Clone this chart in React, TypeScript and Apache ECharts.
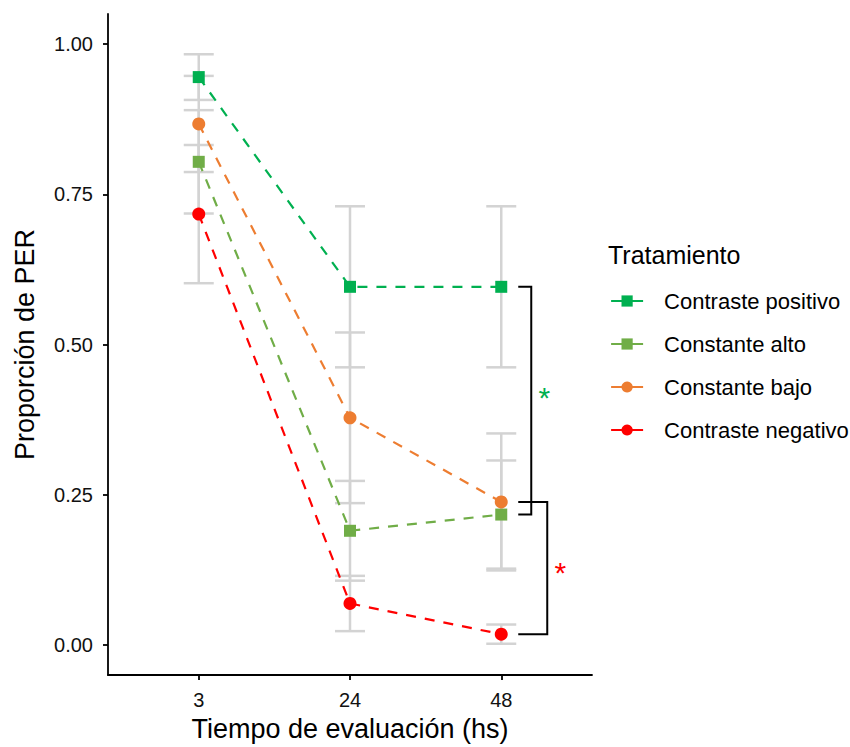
import React, { useEffect, useRef } from "react";
import * as echarts from "echarts";

// Evaluation times (hours) shown on the x axis
const categories = ["3", "24", "48"];

// Mean PER proportion per treatment and time
const positivo = [0.945, 0.596, 0.596];
const alto = [0.804, 0.19, 0.217];
const bajo = [0.867, 0.378, 0.238];
const negativo = [0.717, 0.069, 0.018];

// Half-width of the error bars (same order as above)
const errPositivo = [0.038, 0.134, 0.134];
const errAlto = [0.086, 0.083, 0.09];
const errBajo = [0.08, 0.142, 0.114];
const errNegativo = [0.115, 0.046, 0.016];

const yTicks = [0, 0.25, 0.5, 0.75, 1];

const treatments = [
  { name: "Contraste positivo", values: positivo, err: errPositivo, color: "#00B050", symbol: "rect" },
  { name: "Constante alto", values: alto, err: errAlto, color: "#70AD47", symbol: "rect" },
  { name: "Constante bajo", values: bajo, err: errBajo, color: "#ED7D31", symbol: "circle" },
  { name: "Contraste negativo", values: negativo, err: errNegativo, color: "#FF0000", symbol: "circle" },
];

// Significance brackets at the last time point: [upper, lower] means
const bracketPairs = [
  [positivo[2], alto[2]],
  [bajo[2], negativo[2]],
];
const bracketColors = ["#00B050", "#FF0000"];

const FONT = "'Liberation Sans', Arial, Helvetica, sans-serif";

export default function App() {
  const ref = useRef<HTMLDivElement>(null);

  useEffect(() => {
    if (!ref.current) return;
    const chart = echarts.init(ref.current, undefined, { renderer: "svg" });

    const xPos = categories.map((_, i) => i + 1);

    const errData: number[][] = [];
    treatments.forEach((t) => {
      t.values.forEach((v, i) => {
        errData.push([xPos[i], v - t.err[i], v + t.err[i]]);
      });
    });

    const lastX = xPos[xPos.length - 1];
    const bracketData = bracketPairs.map((p, i) => [lastX, p[0], p[1], i]);

    const series: any[] = [
      {
        type: "custom",
        name: "errorbars",
        data: errData,
        z: 1,
        silent: true,
        renderItem: (params: any, api: any) => {
          const x = api.value(0);
          const lo = api.coord([x, api.value(1)]);
          const hi = api.coord([x, api.value(2)]);
          const half = 15;
          const style = { stroke: "#D3D3D3", lineWidth: 2.5 };
          return {
            type: "group",
            children: [
              { type: "line", shape: { x1: lo[0], y1: lo[1], x2: hi[0], y2: hi[1] }, style },
              { type: "line", shape: { x1: lo[0] - half, y1: lo[1], x2: lo[0] + half, y2: lo[1] }, style },
              { type: "line", shape: { x1: hi[0] - half, y1: hi[1], x2: hi[0] + half, y2: hi[1] }, style },
            ],
          };
        },
      },
      ...treatments.map((t) => ({
        type: "line",
        name: t.name,
        data: t.values.map((v, i) => [xPos[i], v]),
        symbol: t.symbol,
        symbolSize: t.symbol === "rect" ? 12 : 13,
        z: 3,
        itemStyle: { color: t.color },
        lineStyle: { color: t.color, width: 2.2, type: [10, 9] },
      })),
      {
        type: "custom",
        name: "brackets",
        data: bracketData,
        z: 4,
        silent: true,
        renderItem: (params: any, api: any) => {
          const x = api.value(0);
          const idx = api.value(3);
          const a = api.coord([x, api.value(1)]);
          const b = api.coord([x, api.value(2)]);
          const x0 = a[0] + 17;
          const x1 = a[0] + (idx === 0 ? 30 : 46);
          const starShift = idx === 0 ? -3 : 4;
          const style = { stroke: "#000", lineWidth: 2, fill: "none" };
          return {
            type: "group",
            children: [
              {
                type: "polyline",
                shape: { points: [[x0, a[1]], [x1, a[1]], [x1, b[1]], [x0, b[1]]] },
                style,
              },
              {
                type: "text",
                x: x1 + 13,
                y: (a[1] + b[1]) / 2 + starShift,
                style: {
                  text: "*",
                  fill: bracketColors[idx],
                  font: `30px ${FONT}`,
                  align: "center",
                  verticalAlign: "middle",
                },
              },
            ],
          };
        },
      },
    ];

    chart.setOption({
      animation: false,
      backgroundColor: "#fff",
      textStyle: { fontFamily: FONT },
      grid: { left: 108, right: 258, top: 14, bottom: 72, containLabel: false },
      title: {
        text: "Tratamiento",
        left: 603,
        top: 237,
        textStyle: { fontFamily: FONT, fontSize: 25, fontWeight: "normal", color: "#000" },
      },
      legend: {
        orient: "vertical",
        left: 605,
        top: 285,
        itemWidth: 32,
        itemHeight: 14,
        itemGap: 21,
        data: treatments.map((t) => t.name),
        lineStyle: { type: "solid", width: 2.2 },
        textStyle: { fontFamily: FONT, fontSize: 22, color: "#000", padding: [0, 0, 0, 16] },
      },
      xAxis: {
        type: "value",
        min: 0.4,
        max: 3.6,
        name: "Tiempo de evaluación (hs)",
        nameLocation: "middle",
        nameGap: 40,
        nameTextStyle: { fontFamily: FONT, fontSize: 27, color: "#000" },
        splitLine: { show: false },
        axisLine: { show: true, onZero: false, lineStyle: { color: "#000", width: 1.8 } },
        axisTick: { show: true, customValues: xPos, length: 5, lineStyle: { color: "#000", width: 1.8 } },
        axisLabel: {
          customValues: xPos,
          formatter: (v: number) => categories[Math.round(v) - 1] ?? "",
          fontFamily: FONT,
          fontSize: 20,
          color: "#111",
          margin: 15,
        },
      },
      yAxis: {
        type: "value",
        min: -0.05,
        max: 1.05,
        name: "Proporción de PER",
        nameLocation: "middle",
        nameGap: 70,
        nameTextStyle: { fontFamily: FONT, fontSize: 27, color: "#000" },
        splitLine: { show: false },
        axisLine: { show: true, onZero: false, lineStyle: { color: "#000", width: 1.8 } },
        axisTick: { show: true, customValues: yTicks, length: 5, lineStyle: { color: "#000", width: 1.8 } },
        axisLabel: {
          customValues: yTicks,
          formatter: (v: number) => v.toFixed(2),
          fontFamily: FONT,
          fontSize: 20,
          color: "#111",
          margin: 15,
        },
      },
      series,
    });

    return () => chart.dispose();
  }, []);

  return <div ref={ref} style={{ width: 850, height: 747, position: "absolute", left: 0, top: 0 }} />;
}
